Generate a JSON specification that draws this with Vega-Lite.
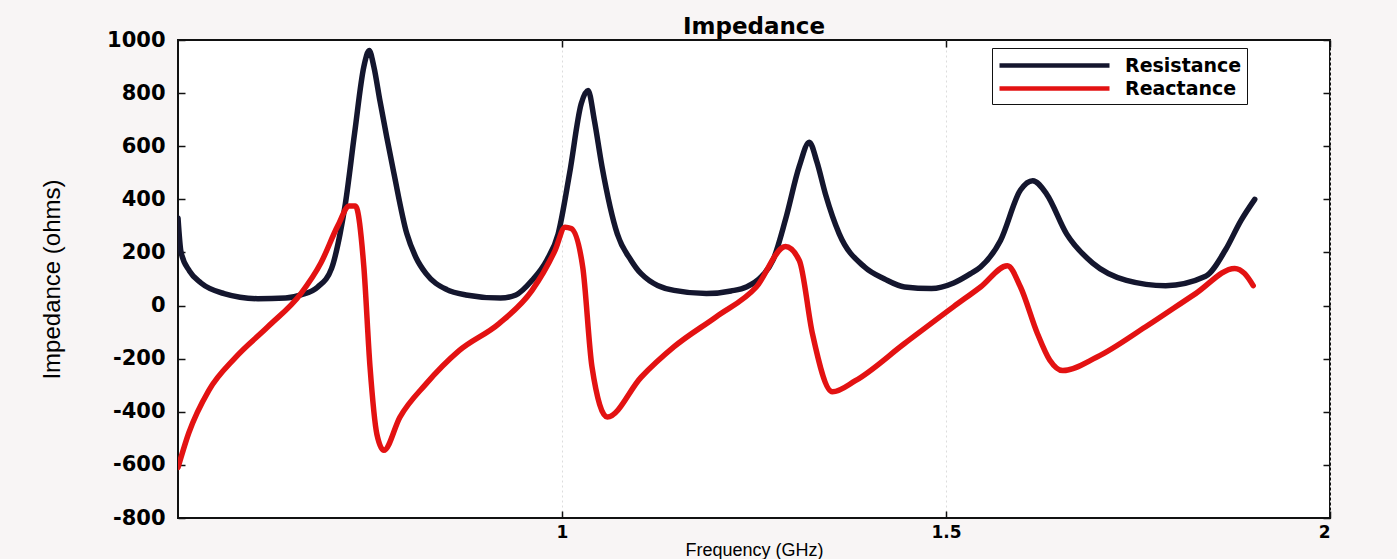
{
  "$schema": "https://vega.github.io/schema/vega-lite/v6.json",
  "autosize": {"type": "none"},
  "width": 1152,
  "height": 478,
  "padding": {"left": 178, "top": 40, "right": 67, "bottom": 41},
  "background": "#f8f5f5",
  "title": {"text": "Impedance", "font": "DejaVu Sans", "fontSize": 23, "fontWeight": "bold", "color": "#000", "offset": 4, "dy": 14},
  "config": {
    "view": {"stroke": "#111", "strokeWidth": 2, "fill": "white"},
    "axis": {"domain": false, "labelFont": "DejaVu Sans", "labelFontWeight": "bold", "labelFontSize": 21, "labelColor": "#000", "tickColor": "#111", "tickWidth": 1.5, "titleFont": "Liberation Sans", "titleFontWeight": "normal", "titleColor": "#000"}
  },
  "data": {"values": [
    {"f":0.5,"v":330,"s":"Resistance"},{"f":0.504,"v":200,"s":"Resistance"},{"f":0.515,"v":130,"s":"Resistance"},{"f":0.53,"v":85,"s":"Resistance"},{"f":0.56,"v":45,"s":"Resistance"},{"f":0.604,"v":26,"s":"Resistance"},{"f":0.64,"v":28,"s":"Resistance"},{"f":0.66,"v":40,"s":"Resistance"},{"f":0.682,"v":70,"s":"Resistance"},{"f":0.7,"v":140,"s":"Resistance"},{"f":0.711,"v":270,"s":"Resistance"},{"f":0.718,"v":385,"s":"Resistance"},{"f":0.73,"v":650,"s":"Resistance"},{"f":0.742,"v":900,"s":"Resistance"},{"f":0.749,"v":960,"s":"Resistance"},{"f":0.755,"v":900,"s":"Resistance"},{"f":0.763,"v":770,"s":"Resistance"},{"f":0.781,"v":500,"s":"Resistance"},{"f":0.798,"v":270,"s":"Resistance"},{"f":0.81,"v":180,"s":"Resistance"},{"f":0.823,"v":120,"s":"Resistance"},{"f":0.85,"v":60,"s":"Resistance"},{"f":0.875,"v":40,"s":"Resistance"},{"f":0.92,"v":28,"s":"Resistance"},{"f":0.94,"v":40,"s":"Resistance"},{"f":0.961,"v":95,"s":"Resistance"},{"f":0.98,"v":170,"s":"Resistance"},{"f":0.995,"v":270,"s":"Resistance"},{"f":1.01,"v":500,"s":"Resistance"},{"f":1.025,"v":760,"s":"Resistance"},{"f":1.034,"v":810,"s":"Resistance"},{"f":1.042,"v":700,"s":"Resistance"},{"f":1.052,"v":525,"s":"Resistance"},{"f":1.072,"v":270,"s":"Resistance"},{"f":1.09,"v":170,"s":"Resistance"},{"f":1.103,"v":120,"s":"Resistance"},{"f":1.146,"v":57,"s":"Resistance"},{"f":1.188,"v":45,"s":"Resistance"},{"f":1.22,"v":55,"s":"Resistance"},{"f":1.24,"v":70,"s":"Resistance"},{"f":1.26,"v":110,"s":"Resistance"},{"f":1.275,"v":173,"s":"Resistance"},{"f":1.291,"v":324,"s":"Resistance"},{"f":1.309,"v":525,"s":"Resistance"},{"f":1.322,"v":615,"s":"Resistance"},{"f":1.332,"v":540,"s":"Resistance"},{"f":1.343,"v":420,"s":"Resistance"},{"f":1.361,"v":270,"s":"Resistance"},{"f":1.394,"v":145,"s":"Resistance"},{"f":1.42,"v":100,"s":"Resistance"},{"f":1.446,"v":70,"s":"Resistance"},{"f":1.481,"v":64,"s":"Resistance"},{"f":1.51,"v":85,"s":"Resistance"},{"f":1.532,"v":120,"s":"Resistance"},{"f":1.545,"v":145,"s":"Resistance"},{"f":1.571,"v":245,"s":"Resistance"},{"f":1.597,"v":435,"s":"Resistance"},{"f":1.613,"v":470,"s":"Resistance"},{"f":1.631,"v":420,"s":"Resistance"},{"f":1.657,"v":270,"s":"Resistance"},{"f":1.691,"v":160,"s":"Resistance"},{"f":1.735,"v":95,"s":"Resistance"},{"f":1.786,"v":75,"s":"Resistance"},{"f":1.838,"v":110,"s":"Resistance"},{"f":1.864,"v":210,"s":"Resistance"},{"f":1.884,"v":320,"s":"Resistance"},{"f":1.902,"v":400,"s":"Resistance"},
    {"f":0.5,"v":-610,"s":"Reactance"},{"f":0.514,"v":-480,"s":"Reactance"},{"f":0.54,"v":-320,"s":"Reactance"},{"f":0.575,"v":-195,"s":"Reactance"},{"f":0.617,"v":-80,"s":"Reactance"},{"f":0.66,"v":45,"s":"Reactance"},{"f":0.686,"v":160,"s":"Reactance"},{"f":0.708,"v":300,"s":"Reactance"},{"f":0.723,"v":375,"s":"Reactance"},{"f":0.731,"v":375,"s":"Reactance"},{"f":0.742,"v":145,"s":"Reactance"},{"f":0.75,"v":-230,"s":"Reactance"},{"f":0.759,"v":-485,"s":"Reactance"},{"f":0.768,"v":-545,"s":"Reactance"},{"f":0.789,"v":-420,"s":"Reactance"},{"f":0.823,"v":-295,"s":"Reactance"},{"f":0.866,"v":-170,"s":"Reactance"},{"f":0.918,"v":-68,"s":"Reactance"},{"f":0.961,"v":57,"s":"Reactance"},{"f":0.991,"v":208,"s":"Reactance"},{"f":1.004,"v":295,"s":"Reactance"},{"f":1.012,"v":290,"s":"Reactance"},{"f":1.027,"v":145,"s":"Reactance"},{"f":1.039,"v":-230,"s":"Reactance"},{"f":1.059,"v":-420,"s":"Reactance"},{"f":1.103,"v":-270,"s":"Reactance"},{"f":1.146,"v":-155,"s":"Reactance"},{"f":1.201,"v":-42,"s":"Reactance"},{"f":1.253,"v":70,"s":"Reactance"},{"f":1.291,"v":222,"s":"Reactance"},{"f":1.309,"v":170,"s":"Reactance"},{"f":1.326,"v":-105,"s":"Reactance"},{"f":1.352,"v":-325,"s":"Reactance"},{"f":1.382,"v":-283,"s":"Reactance"},{"f":1.446,"v":-143,"s":"Reactance"},{"f":1.51,"v":-4,"s":"Reactance"},{"f":1.545,"v":70,"s":"Reactance"},{"f":1.58,"v":150,"s":"Reactance"},{"f":1.597,"v":70,"s":"Reactance"},{"f":1.619,"v":-105,"s":"Reactance"},{"f":1.635,"v":-205,"s":"Reactance"},{"f":1.652,"v":-245,"s":"Reactance"},{"f":1.696,"v":-195,"s":"Reactance"},{"f":1.76,"v":-80,"s":"Reactance"},{"f":1.825,"v":45,"s":"Reactance"},{"f":1.876,"v":140,"s":"Reactance"},{"f":1.889,"v":120,"s":"Reactance"},{"f":1.9,"v":75,"s":"Reactance"}
  ]},
  "layer": [
    {
      "mark": {"type": "line", "interpolate": "monotone", "strokeWidth": 5.5, "strokeCap": "round", "strokeJoin": "round", "clip": true},
      "encoding": {
        "x": {"field": "f", "type": "quantitative", "scale": {"domain": [0.5, 2], "nice": false, "zero": false},
          "axis": {"orient": "bottom", "values": [1, 1.5, 2], "labelExpr": "'' + datum.value", "title": "Frequency (GHz)", "titleFontSize": 18, "titlePadding": 1, "tickSize": -7, "labelPadding": 13, "labelFontSize": 17, "grid": true, "gridColor": "#dcdcdc", "gridDash": [2, 3], "gridWidth": 1}},
        "y": {"field": "v", "type": "quantitative", "scale": {"domain": [-800, 1000], "nice": false},
          "axis": {"orient": "left", "values": [-800, -600, -400, -200, 0, 200, 400, 600, 800, 1000], "labelExpr": "'' + datum.value", "title": "Impedance (ohms)", "titleFontSize": 24, "titlePadding": 42, "tickSize": -7, "labelPadding": 20, "grid": false}},
        "color": {"field": "s", "type": "nominal", "sort": ["Resistance", "Reactance"],
          "scale": {"domain": ["Resistance", "Reactance"], "range": ["#14162e", "#e31212"]},
          "legend": {"title": null, "orient": "none", "legendX": 814, "legendY": 8, "symbolType": "M-1,0H10", "symbolSize": 400, "symbolStrokeWidth": 4.5, "labelFont": "DejaVu Sans", "labelFontWeight": "bold", "labelFontSize": 19, "labelColor": "#000", "strokeColor": "#111", "fillColor": "white", "padding": 5, "rowPadding": 0, "labelOffset": 103}}
      }
    },
    {
      "mark": {"type": "line", "opacity": 0},
      "encoding": {
        "x": {"field": "f", "type": "quantitative", "axis": {"orient": "top", "values": [1, 1.5, 2], "labels": false, "title": null, "tickSize": -7, "grid": false}},
        "y": {"field": "v", "type": "quantitative", "axis": {"orient": "right", "values": [-800, -600, -400, -200, 0, 200, 400, 600, 800, 1000], "labels": false, "title": null, "tickSize": -7, "grid": false}}
      }
    }
  ],
  "resolve": {"axis": {"x": "independent", "y": "independent"}}
}
